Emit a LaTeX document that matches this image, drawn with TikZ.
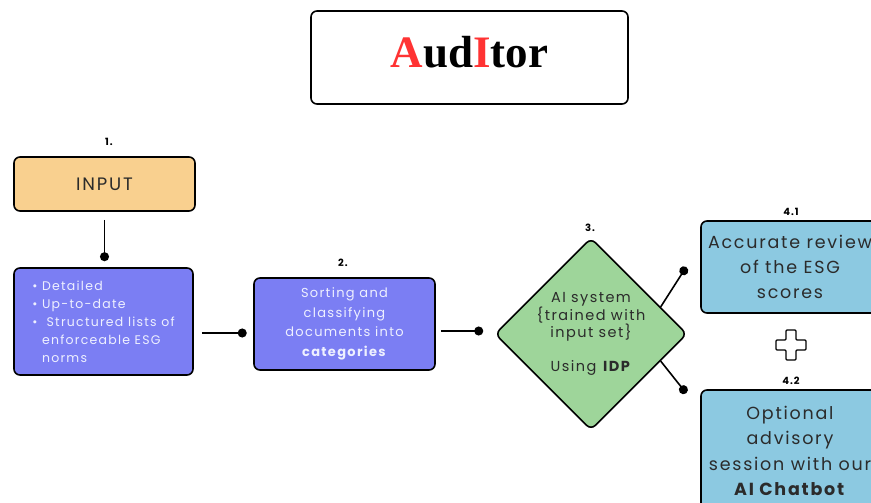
\documentclass[tikz,border=0pt]{standalone}
\usepackage{fontspec}
\setmainfont{Poppins}[LetterSpace=10]
\newfontfamily\titlefont{Liberation Serif}
\usetikzlibrary{shapes.geometric,arrows.meta,calc}

\definecolor{inputorange}{HTML}{F9D08F}
\definecolor{stepblue}{HTML}{7B7EF3}
\definecolor{aigreen}{HTML}{9ED59A}
\definecolor{outblue}{HTML}{8CC9E1}
\definecolor{titlered}{HTML}{FF3333}
\definecolor{boxtext}{HTML}{EEF0FF}
\definecolor{darktext}{HTML}{2B2B2B}

\begin{document}
\begin{tikzpicture}[x=1pt,y=-1pt,
		box/.style={draw=black, line width=1.6pt, rounded corners=6pt, align=center, inner sep=0pt},
		conn/.style={line width=1.6pt, -{Circle[length=9pt]}},
		num/.style={font=\bfseries\fontsize{10}{12}\selectfont, inner sep=0pt}]

	\useasboundingbox (0,0) rectangle (871,503);

	% title
	\node[box, minimum width=317pt, minimum height=93pt, text depth=12pt] (title) at (469.5,57.5)
		{\titlefont\bfseries\fontsize{45}{50}\selectfont\textcolor{titlered}{A}ud\textcolor{titlered}{I}tor};

	% 1. input
	\node[num] (n1) at (109,142) {1.};
	\node[box, fill=inputorange, text=darktext, minimum width=181pt, minimum height=54pt,
		font=\fontsize{18}{22}\selectfont] (input) at (104.5,184) {INPUT};
	\node[box, fill=stepblue, text=boxtext, minimum width=179pt, minimum height=107pt,
		align=left, font=\fontsize{12.5}{18}\selectfont] (norms) at (103.5,321.5)
		{\textbullet\ Detailed\\
		 \textbullet\ Up-to-date\\
		 \textbullet\ \ Structured lists of\\
		 \hphantom{\textbullet\ }enforceable ESG\\
		 \hphantom{\textbullet\ }norms};

	% 2. sorting
	\node[num] (n2) at (343,263) {2.};
	\node[box, fill=stepblue, text=boxtext, minimum width=181pt, minimum height=92pt,
		font=\fontsize{13}{19.5}\selectfont] (sort) at (344.5,324)
		{Sorting and\\ classifying\\ documents into\\ \textbf{categories}};

	% 3. ai system
	\node[num] (n3) at (590,228) {3.};
	\node[diamond, draw=black, line width=1.6pt, rounded corners=6pt, fill=aigreen, text=darktext,
		minimum width=188pt, minimum height=192pt, inner sep=0pt, align=center,
		font=\fontsize{14.5}{16.5}\selectfont] (ai) at (591,334)
		{AI system\\ \{trained with\\ input set\}\\[18pt] Using \textbf{IDP}};

	% 4. outputs
	\node[num] (n41) at (791,212) {4.1};
	\node[box, fill=outblue, text=darktext, minimum width=178pt, minimum height=92pt,
		font=\fontsize{17.5}{25}\selectfont] (review) at (790,267)
		{Accurate review\\ of the ESG\\ scores};
	\node[num] (n42) at (791,381) {4.2};
	\node[box, fill=outblue, text=darktext, minimum width=178pt, minimum height=122pt,
		font=\fontsize{17.5}{25.5}\selectfont] (chat) at (790,451)
		{Optional\\ advisory\\ session with our\\ \textbf{AI Chatbot}};

	\draw[line width=1.2pt, rounded corners=1pt] (786,330) -- (796,330) -- (796,340) -- (806,340)
		-- (806,350) -- (796,350) -- (796,360) -- (786,360) -- (786,350) -- (776,350)
		-- (776,340) -- (786,340) -- cycle;

	% connectors
	\coordinate (row1) at (0,333);
	\coordinate (row2) at (0,331);
	\draw[conn, shorten <=8pt, shorten >=6pt] (input.south) -- (input.south |- norms.north);
	\draw[conn, shorten <=8pt, shorten >=6.5pt] (norms.east |- row1) -- (sort.west |- row1);
	\draw[conn, shorten <=5pt, shorten >=11pt] (sort.east |- row2) -- (ai.west |- row2);
	\draw[conn] ($(ai.north)!0.72!(ai.east)$) -- ($(review.west)+(-14,0)$);
	\draw[conn] ($(ai.south)!0.72!(ai.east)$) -- ($(chat.north west)+(-14,4)$);

\end{tikzpicture}
\end{document}
